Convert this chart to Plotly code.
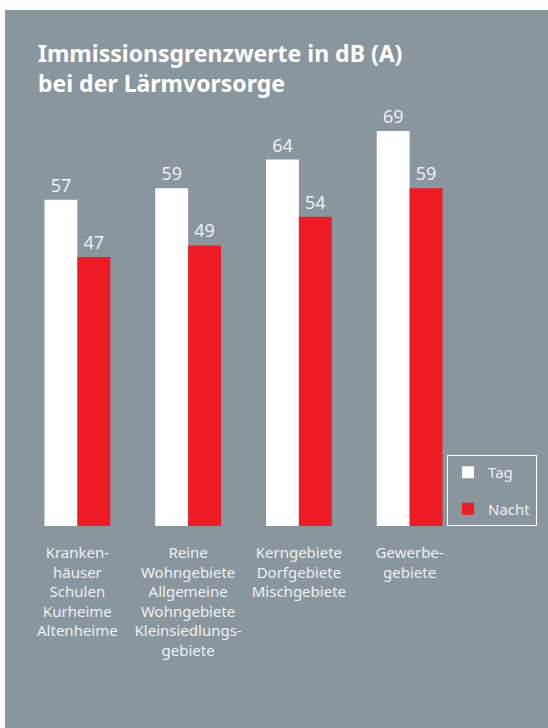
import plotly.graph_objects as go

categories = [
    "Kranken-<br>häuser<br>Schulen<br>Kurheime<br>Altenheime",
    "Reine<br>Wohngebiete<br>Allgemeine<br>Wohngebiete<br>Kleinsiedlungs-<br>gebiete",
    "Kerngebiete<br>Dorfgebiete<br>Mischgebiete",
    "Gewerbe-<br>gebiete",
]
tag = [57, 59, 64, 69]
nacht = [47, 49, 54, 59]
series_names = ["Tag", "Nacht"]
title_lines = ["Immissionsgrenzwerte in dB (A)", "bei der Lärmvorsorge"]

GRAY = "#8a969d"
RED = "#ee1c25"
WHITE = "#ffffff"
TXT = "#eef0f2"
FONT = "Noto Sans"

W, H = 548, 728
L, R, T, B = 22, 82, 68, 202
pw, ph = W - L - R, H - T - B

fig = go.Figure()
fig.add_trace(go.Bar(
    x=categories, y=tag, name=series_names[0], marker=dict(color=WHITE, line=dict(width=0)),
    text=[str(v) for v in tag], textposition="outside",
    outsidetextfont=dict(color=TXT, size=18, family=FONT), cliponaxis=False,
    legendgroup="a",
))
fig.add_trace(go.Bar(
    x=categories, y=nacht, name=series_names[1], marker=dict(color=RED, line=dict(width=0)),
    text=[str(v) for v in nacht], textposition="outside",
    outsidetextfont=dict(color=TXT, size=18, family=FONT), cliponaxis=False,
    legendgroup="b",
))

def px_x(x):
    return (x - L) / pw

def px_y(y):
    return (H - B - y) / ph

fig.add_shape(type="rect", xref="paper", yref="paper",
              x0=px_x(5), x1=px_x(560), y0=px_y(740), y1=px_y(10),
              fillcolor=GRAY, line=dict(width=0), layer="below")

fig.add_annotation(text="<br>".join("<b>" + s + "</b>" for s in title_lines),
                   xref="paper", yref="paper", x=px_x(36), y=px_y(35),
                   xanchor="left", yanchor="top", align="left", showarrow=False,
                   font=dict(color=WHITE, size=23, family=FONT))

fig.update_layout(
    width=W, height=H,
    margin=dict(l=L, r=R, t=T, b=B, pad=0),
    paper_bgcolor="white", plot_bgcolor="rgba(0,0,0,0)",
    barmode="group", bargap=0.406, bargroupgap=0,
    font=dict(family=FONT, color=TXT, size=15),
    showlegend=True,
    legend=dict(x=px_x(447), y=0, xanchor="left", yanchor="bottom",
                bgcolor="rgba(0,0,0,0)", bordercolor=WHITE, borderwidth=1,
                font=dict(size=15, color=TXT, family=FONT),
                tracegroupgap=14, itemwidth=30),
    xaxis=dict(showline=False, showgrid=False, zeroline=False, ticks="",
               tickfont=dict(size=15, color=TXT, family=FONT), tickangle=0,
               ticklabelstandoff=16),
    yaxis=dict(range=[0, 80], visible=False, showgrid=False, zeroline=False),
)

fig.write_html("out.html")
